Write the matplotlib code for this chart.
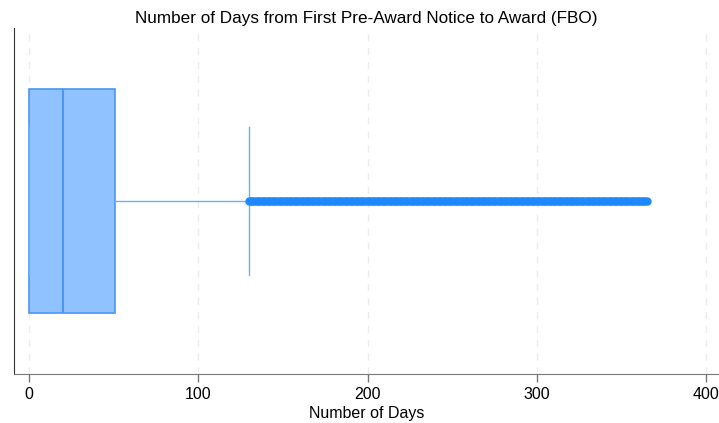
import numpy as np
import matplotlib
matplotlib.use("Agg")
import matplotlib.pyplot as plt

plt.rcParams['font.family'] = ['Liberation Sans', 'DejaVu Sans']

# summary of days from first pre-award notice to award
q1 = 0
median = 20
q3 = 51
upper_adjacent = 130
# outside values cover every whole day from here to the max
outlier_first = 130
outlier_last = 365
ticks = [0, 100, 200, 300, 400]

outliers = np.arange(outlier_first, outlier_last + 1)

fig = plt.figure(figsize=(7.19, 4.23), dpi=100)
ax = fig.add_axes([13.5 / 719, 49 / 423, 1 - 13.5 / 719, 346 / 423])

stats = [dict(med=median, q1=q1, q3=q3, whislo=q1, whishi=upper_adjacent,
              fliers=outliers)]
ax.bxp(stats, positions=[0.5], widths=[0.645], capwidths=[0.428],
       orientation='horizontal', patch_artist=True,
       boxprops=dict(facecolor='#90c2ff', edgecolor='#4a96f5', linewidth=1.2),
       medianprops=dict(color='#4a96f5', linewidth=1.5),
       whiskerprops=dict(color='#6aaefc', linewidth=1.0),
       capprops=dict(color='#6aaefc', linewidth=1.0),
       flierprops=dict(marker='o', markersize=5, markerfacecolor='#1e88ff',
                       markeredgecolor='#1e88ff', linestyle='none'))

ax.set_xlim(-9.2, 407.7)
ax.set_ylim(0, 1)
ax.set_xticks(ticks)
ax.set_yticks([])
ax.grid(axis='x', color='#ececec', linestyle=(0, (5, 5)), linewidth=1.0)
ax.set_axisbelow(True)

for side in ['top', 'right']:
    ax.spines[side].set_visible(False)
ax.spines['left'].set_color('#333333')
ax.spines['bottom'].set_color('#777777')
ax.tick_params(axis='x', length=6, width=1, color='#777777', labelsize=11.5, pad=3)

ax.set_xlabel('Number of Days', fontsize=11.5, labelpad=3)
ax.set_title('Number of Days from First Pre-Award Notice to Award (FBO)',
             fontsize=12.3, pad=3.5)

fig.savefig('out.png', dpi=100)
